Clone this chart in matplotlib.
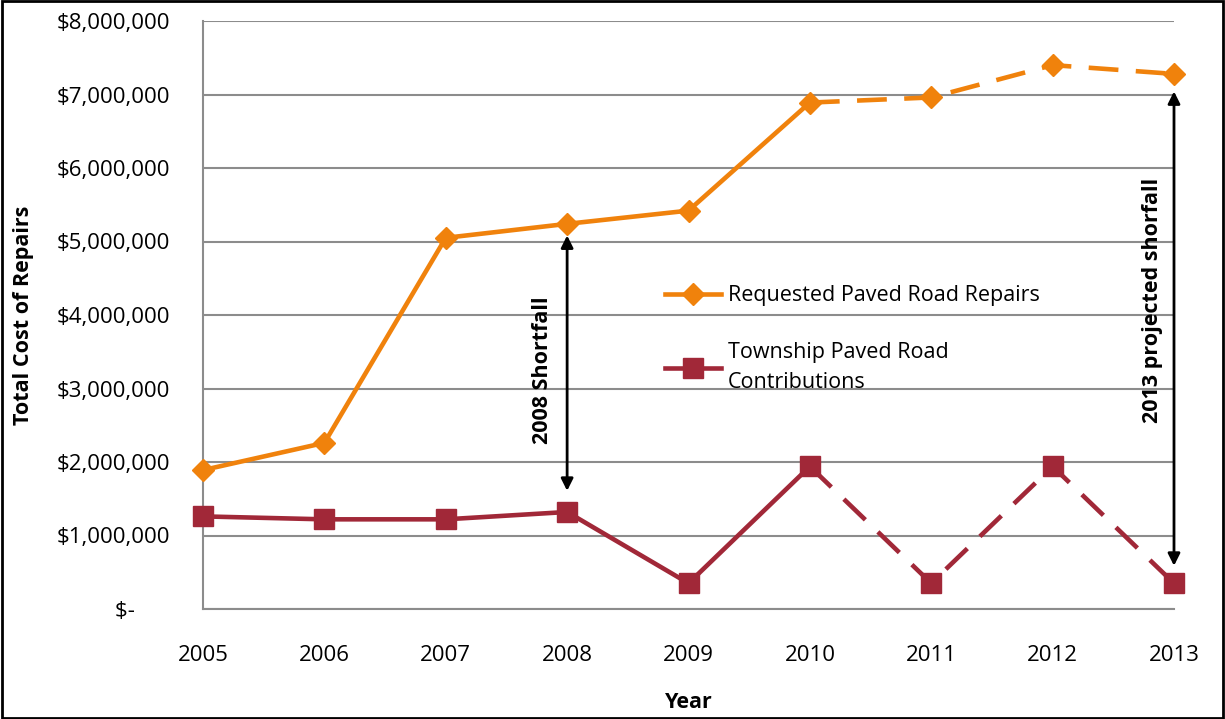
import matplotlib
matplotlib.use("Agg")
import matplotlib.pyplot as plt
from matplotlib.patches import Rectangle
from matplotlib.ticker import FuncFormatter
from matplotlib.lines import Line2D

years = [2005, 2006, 2007, 2008, 2009, 2010, 2011, 2012, 2013]
requested = [1890000, 2260000, 5050000, 5240000, 5420000, 6890000, 6960000, 7400000, 7280000]
township = [1260000, 1220000, 1220000, 1320000, 350000, 1940000, 350000, 1940000, 350000]
yticks = [0, 1000000, 2000000, 3000000, 4000000, 5000000, 6000000, 7000000, 8000000]
actual_end = 5  # index of 2010, where projected (dashed) part starts

plt.rcParams['font.family'] = ['Open Sans', 'DejaVu Sans']
orange = '#F0820C'
red = '#A12838'
grid = '#8C8C8C'
lw = 3.3
dash = (0, (6.5, 3.8))

fig = plt.figure(figsize=(12.25, 7.19), dpi=100)
ax = fig.add_axes([203/1225, 1 - 609/719, (1174-203)/1225, (609-21)/719])

ax.plot(years[:actual_end+1], requested[:actual_end+1], color=orange, lw=lw, zorder=3)
ax.plot(years[:actual_end+1], township[:actual_end+1], color=red, lw=lw, zorder=3)
ax.plot(years[actual_end:], requested[actual_end:], color=orange, lw=lw, ls=dash, zorder=3)
ax.plot(years[actual_end:], township[actual_end:], color=red, lw=lw, ls=dash, zorder=3)
ax.plot(years, requested, ls='none', marker='D', ms=11, color=orange, zorder=4, clip_on=False)
ax.plot(years, township, ls='none', marker='s', ms=14, color=red, zorder=4, clip_on=False)

h1 = Line2D([], [], color=orange, lw=lw, marker='D', ms=11)
h2 = Line2D([], [], color=red, lw=lw, marker='s', ms=14)
leg = ax.legend([h1, h2], ['Requested Paved Road Repairs', 'Township Paved Road\nContributions'],
                loc='upper left', bbox_to_anchor=(443/971, 1 - 245/588), frameon=False,
                fontsize=15.5, handlelength=2.6, labelspacing=1.65, handletextpad=0.3)
for t in leg.get_texts():
    t.set_linespacing(1.6)

ax.set_xlim(2005, 2013)
ax.set_ylim(0, 8000000)
ax.set_yticks(yticks)
ax.set_xticks(years)
ax.yaxis.set_major_formatter(FuncFormatter(lambda v, p: '$-      ' if v == 0 else '${:,.0f}'.format(v)))
ax.tick_params(axis='both', length=0, labelsize=16, colors='black')
ax.tick_params(axis='x', pad=26)
ax.tick_params(axis='y', pad=24)
ax.yaxis.grid(True, color=grid, lw=1.5)
ax.set_axisbelow(True)
for s in ['top', 'right']:
    ax.spines[s].set_visible(False)
for s in ['left', 'bottom']:
    ax.spines[s].set_color(grid)
    ax.spines[s].set_linewidth(1.5)

ax.set_ylabel('Total Cost of Repairs', fontsize=15.5, fontweight='bold', labelpad=16)
ax.set_xlabel('Year', fontsize=15.5, fontweight='bold', labelpad=19)

ax.annotate('', xy=(2008, requested[3] - 120000), xytext=(2008, township[3] + 250000),
            arrowprops=dict(arrowstyle='<|-|>', color='black', lw=2, mutation_scale=18))
ax.text(2007.8, 3250000, '2008 Shortfall', rotation=90, fontsize=15.5, fontweight='bold',
        ha='center', va='center')
ax.annotate('', xy=(2013, requested[8] - 200000), xytext=(2013, township[8] + 200000),
            arrowprops=dict(arrowstyle='<|-|>', color='black', lw=2, mutation_scale=18),
            annotation_clip=False)
ax.text(2012.82, 4200000, '2013 projected shorfall', rotation=90, fontsize=15.5, fontweight='bold',
        ha='center', va='center')

fig.patches.append(Rectangle((0.002, 0.002), 0.996, 0.996, transform=fig.transFigure,
                             fill=False, edgecolor='black', lw=2))

fig.savefig('out.png', dpi=100)
